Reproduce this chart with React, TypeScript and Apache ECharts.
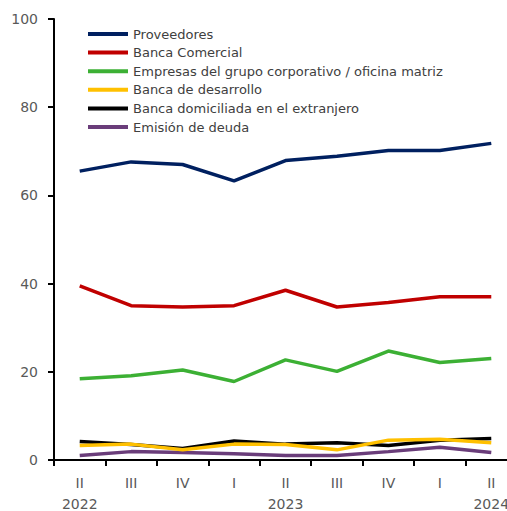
import React, { useEffect, useRef } from "react";
import * as echarts from "echarts";

const categories = ["II\n2022", "III", "IV", "I", "II\n2023", "III", "IV", "I", "II\n2024"];
const seriesNames = [
  "Proveedores",
  "Banca Comercial",
  "Empresas del grupo corporativo / oficina matriz",
  "Banca de desarrollo",
  "Banca domiciliada en el extranjero",
  "Emisión de deuda",
];
const proveedores = [65.5, 67.6, 67.0, 63.3, 67.9, 68.9, 70.2, 70.2, 71.8];
const bancaComercial = [39.5, 35.0, 34.7, 35.0, 38.5, 34.7, 35.7, 37.0, 37.0];
const empresasGrupo = [18.4, 19.1, 20.4, 17.8, 22.7, 20.1, 24.7, 22.1, 23.0];
const bancaDesarrollo = [3.3, 3.6, 2.3, 3.6, 3.5, 2.3, 4.5, 4.7, 3.9];
const bancaExtranjero = [4.2, 3.5, 2.6, 4.3, 3.6, 3.9, 3.3, 4.5, 4.9];
const emisionDeuda = [1.0, 1.9, 1.7, 1.4, 1.0, 1.0, 1.9, 2.9, 1.7];
const yTicks = { min: 0, max: 100, interval: 20 };

const colors = ["#002060", "#C00000", "#3CB034", "#FFC000", "#000000", "#6A3D7A"];

export default function App() {
  const ref = useRef<HTMLDivElement>(null);
  useEffect(() => {
    if (!ref.current) return;
    const chart = echarts.init(ref.current, null, { renderer: "svg" });
    const data = [proveedores, bancaComercial, empresasGrupo, bancaDesarrollo, bancaExtranjero, emisionDeuda];
    const font = "DejaVu Sans";
    chart.setOption({
      animation: false,
      grid: {
        left: 54,
        top: 19,
        height: 441,
        width: 463,
        containLabel: false,
        outerBoundsMode: "none",
      },
      legend: {
        orient: "vertical",
        left: 83,
        top: 22,
        itemWidth: 40,
        itemHeight: 4,
        itemGap: 4.6,
        icon: "rect",
        data: seriesNames,
        textStyle: { fontFamily: font, fontSize: 13, color: "#404040", lineHeight: 14 },
        selectedMode: false,
      },
      xAxis: {
        type: "category",
        data: categories,
        boundaryGap: true,
        axisLine: { lineStyle: { color: "#000", width: 2 } },
        axisTick: { show: true, length: 6, lineStyle: { color: "#000", width: 2 } },
        axisLabel: {
          fontFamily: font,
          fontSize: 14,
          color: "#595959",
          margin: 12,
          lineHeight: 21,
          interval: 0,
        },
        splitLine: { show: false },
      },
      yAxis: {
        type: "value",
        min: yTicks.min,
        max: yTicks.max,
        interval: yTicks.interval,
        axisLine: { show: true, lineStyle: { color: "#000", width: 2 } },
        axisTick: { show: true, length: 6, lineStyle: { color: "#000", width: 2 } },
        axisLabel: { fontFamily: font, fontSize: 14, color: "#595959", margin: 16 },
        splitLine: { show: false },
      },
      series: seriesNames.map((name, i) => ({
        name,
        type: "line",
        data: data[i],
        symbol: "none",
        color: colors[i],
        lineStyle: { width: 3.5, color: colors[i] },
        z: 10 - i,
      })),
    });
    return () => chart.dispose();
  }, []);
  return (
    <div
      ref={ref}
      style={{ position: "fixed", left: 0, top: 0, width: 507, height: 511, background: "#fff" }}
    />
  );
}
